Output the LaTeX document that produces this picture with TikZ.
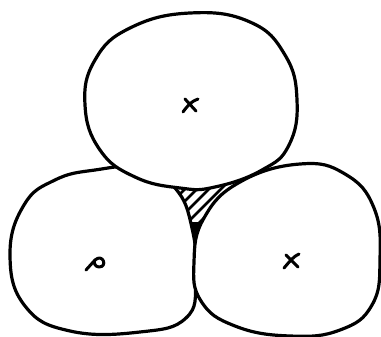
\documentclass[tikz,border=0pt]{standalone}
\begin{document}
\begin{tikzpicture}[x=1pt,y=-1pt,
  ball/.style={draw=black,fill=white,line width=3.2pt,line join=round},
  centremark/.style={draw=black,line width=3pt,line cap=round,line join=round},
  hatch/.style={draw=black,line width=2.6pt}]
\useasboundingbox (0,0) rectangle (381,337);
% hatched gap between the balls
\begin{scope}
  \clip (190,100) -- (103,250) -- (287,248) -- cycle;
  \foreach \c in {100,112,...,230} \draw[hatch] (\c,250) -- (\c+70,180);
  \fill[black] (150,222) rectangle (240,262);
\end{scope}
% left ball
\draw[ball] plot[smooth cycle,tension=0.75] coordinates {(95,170) (140,168) (175,188) (192,228) (196,280) (186,318) (140,332) (70,331) (25,306) (10,255) (24,205) (55,180)};
% right ball
\draw[ball] plot[smooth cycle,tension=0.75] coordinates {(300,164) (345,174) (374,208) (380,260) (372,305) (340,330) (290,336) (235,326) (201,301) (194,262) (204,218) (240,182)};
% top ball
\draw[ball] plot[smooth cycle,tension=0.75] coordinates {(190,13) (250,22) (285,55) (297,100) (289,145) (262,170) (215,187) (180,188) (135,177) (100,150) (85,105) (95,60) (130,28)};
% centre marks
\draw[centremark] (185,99) -- (196,111) (183,112) .. controls (188,105) and (192,101) .. (198,99);
\draw[centremark] (286,255) -- (298,267) (284,268) .. controls (290,261) and (294,256) .. (299,254);
\draw[centremark] (86,270) -- (95,260) .. controls (103,253) and (108,267) .. (99,267) .. controls (95,267) and (93,262) .. (95,260);
\end{tikzpicture}
\end{document}
